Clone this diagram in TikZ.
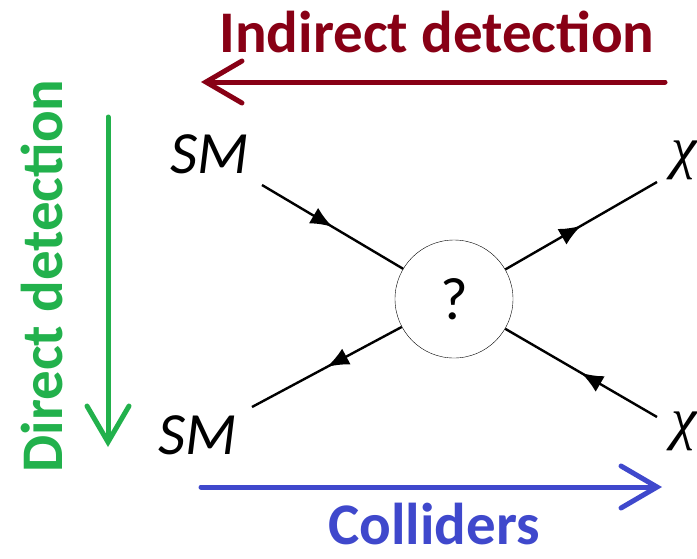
\documentclass[tikz,border=0pt]{standalone}
\usepackage{fontspec}
\setmainfont{Carlito}
\newfontfamily\chifont{Liberation Serif}
\usetikzlibrary{arrows.meta,decorations.markings}
\definecolor{indred}{RGB}{136,0,21}
\definecolor{dirgreen}{RGB}{34,177,76}
\definecolor{colblue}{RGB}{63,72,204}
\begin{document}
\begin{tikzpicture}[x=1pt,y=-1pt]
	\tikzstyle{blob}=[circle,draw=black,thin,minimum size=118pt,inner sep=0pt,font=\fontsize{60}{60}\selectfont]
	\tikzstyle{ext}=[inner sep=0pt,font=\fontsize{60}{60}\selectfont\itshape]
	\tikzstyle{chilabel}=[inner sep=0pt,anchor=west,font=\fontsize{58}{58}\selectfont\chifont\itshape]
	\tikzstyle{fermion}=[line width=2.4pt,postaction={decorate},decoration={markings,mark=at position 0.5 with {\arrow{Latex[length=22pt,width=18pt]}}}]
	\tikzstyle{probe}=[line width=5pt,line cap=round,-{Straight Barb[length=36pt,width=42pt,line cap=round]}]
	\tikzstyle{probelabel}=[inner sep=0pt,font=\fontsize{59}{59}\selectfont\bfseries]
	\useasboundingbox (0,0) rectangle (697,558);
	% the vertex
	\node[blob] (blob) at (454,299) {?};
	\node[ext] (sm-in) at (210,154) {SM};
	\node[ext] (sm-out) at (198,435) {SM};
	\node[chilabel] (chi-out) at (671,160) {χ};
	\node[chilabel] (chi-in) at (671,431) {χ};
	\coordinate (tl) at (262,185);
	\coordinate (tr) at (657,182);
	\coordinate (bl) at (252,407);
	\coordinate (br) at (657,417);
	\draw[fermion] (tl) -- (blob);
	\draw[fermion] (blob) -- (tr);
	\draw[fermion] (blob) -- (bl);
	\draw[fermion] (br) -- (blob);
	% the three ways to look
	\node[probelabel,text=indred] (ind-label) at (437,32) {Indirect detection};
	\coordinate (ind-start) at (665,82);
	\coordinate (ind-end) at (201,82);
	\draw[probe,draw=indred] (ind-start) -- (ind-end);
	\node[probelabel,text=dirgreen,rotate=90] (dir-label) at (42,276) {Direct detection};
	\coordinate (dir-start) at (108,117);
	\coordinate (dir-end) at (108,447);
	\draw[probe,draw=dirgreen] (dir-start) -- (dir-end);
	\node[probelabel,text=colblue] (col-label) at (434,524) {Colliders};
	\coordinate (col-start) at (201,487);
	\coordinate (col-end) at (662,487);
	\draw[probe,draw=colblue] (col-start) -- (col-end);
\end{tikzpicture}
\end{document}
